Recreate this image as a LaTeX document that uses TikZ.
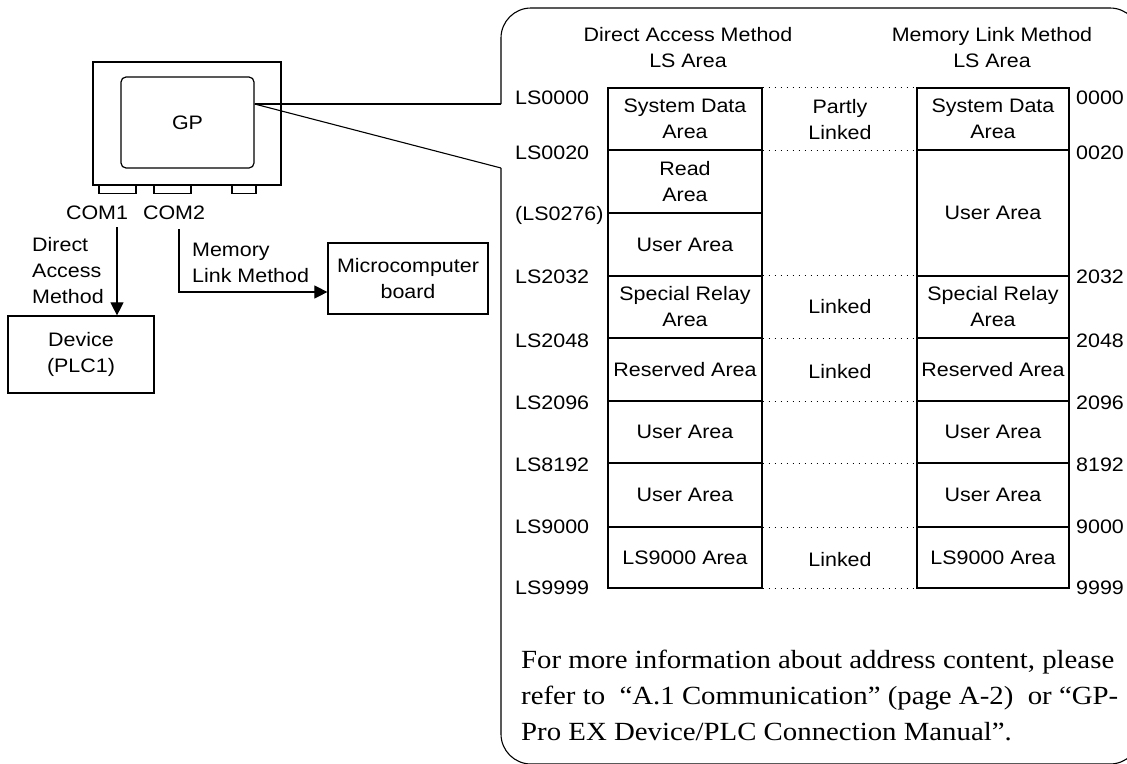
\documentclass[tikz,border=0pt]{standalone}
\usepackage{fontspec}
\setmainfont{Liberation Serif}[FakeStretch=1.1]
\setsansfont{Liberation Sans}[FakeStretch=1.1]
\usetikzlibrary{arrows.meta}
\begin{document}
\begin{tikzpicture}[x=1pt,y=-1pt,
  sans/.style={font=\sffamily\fontsize{19.5}{26}\selectfont, inner sep=0pt, align=center},
  box/.style={draw, line width=1.2pt, inner sep=0pt, align=center, font=\sffamily\fontsize{19.5}{26}\selectfont},
  cellL/.style={box, minimum width=154pt},
  cellR/.style={box, minimum width=152pt},
  dotline/.style={line width=1.4pt, dash pattern=on 1.4pt off 4.6pt},
  arr/.style={line width=1.1pt, -{Triangle[length=13pt,width=13pt]}},
  thin/.style={line width=1.1pt}
]
\useasboundingbox (0,0) rectangle (1127,763);

% ---------- left part ----------
\node[box, minimum width=188pt, minimum height=123pt] (gpout) at (187,123.5) {};
\node[box, rounded corners=5pt, minimum width=133pt, minimum height=91pt] (gp) at (187.5,122.5) {GP};
\node[box, minimum width=37pt, minimum height=8pt, anchor=north] (p1) at (117.5,185) {};
\node[box, minimum width=37pt, minimum height=8pt, anchor=north] (p2) at (172.5,185) {};
\node[box, minimum width=24pt, minimum height=8pt, anchor=north] (p3) at (244,185) {};
\node[sans] (com1) at (97,213) {COM1};
\node[sans] (com2) at (174,213) {COM2};

\node[box, minimum width=146pt, minimum height=77pt] (dev) at (81,354.5) {Device\\(PLC1)};
\node[box, minimum width=160pt, minimum height=71pt] (mc) at (408,278.5) {Microcomputer\\board};

\coordinate (a1) at (117,227);
\draw[arr] (a1) -- (a1 |- dev.north);
\node[sans, align=left, anchor=west] (dam) at (32,271) {Direct\\Access\\Method};

\coordinate (a2) at (179,229);
\coordinate (bend) at (179,292);
\draw[arr] (a2) -- (bend) -- (bend -| mc.west);
\node[sans, align=left, anchor=west] (mlm) at (192,263) {Memory\\Link Method};

% ---------- callout panel ----------
\coordinate (ct) at (501,104);
\coordinate (cb) at (501,168);
\draw[thin] (gp.east |- 0,104) -- (ct);
\draw[thin] (gp.east |- 0,104) -- (cb);
\draw[thin, rounded corners=30pt] (ct) -- (501,8) -- (1140,8) -- (1140,764) -- (501,764) -- (cb);

% headers
\node[sans] (h1) at (688,48) {Direct Access Method\\LS Area};
\node[sans] (h2) at (992,48) {Memory Link Method\\LS Area};

% left column
\node[cellL, minimum height=62pt]   (l1) at (685,119)   {System Data\\Area};
\node[cellL, minimum height=63pt]   (l2) at (685,181.5) {Read\\Area};
\node[cellL, minimum height=63pt]   (l3) at (685,244.5) {User Area};
\node[cellL, minimum height=62pt]   (l4) at (685,307)   {Special Relay\\Area};
\node[cellL, minimum height=63pt]   (l5) at (685,369.5) {Reserved Area};
\node[cellL, minimum height=62pt]   (l6) at (685,432)   {User Area};
\node[cellL, minimum height=64pt]   (l7) at (685,495)   {User Area};
\node[cellL, minimum height=61pt]   (l8) at (685,557.5) {LS9000 Area};

% right column
\node[cellR, minimum height=62pt]   (r1) at (993,119)   {System Data\\Area};
\node[cellR, minimum height=126pt]  (r2) at (993,213)   {User Area};
\node[cellR, minimum height=62pt]   (r4) at (993,307)   {Special Relay\\Area};
\node[cellR, minimum height=63pt]   (r5) at (993,369.5) {Reserved Area};
\node[cellR, minimum height=62pt]   (r6) at (993,432)   {User Area};
\node[cellR, minimum height=64pt]   (r7) at (993,495)   {User Area};
\node[cellR, minimum height=61pt]   (r8) at (993,557.5) {LS9000 Area};

% dotted links
\draw[dotline] (l1.north east) -- (r1.north west);
\draw[dotline] (l1.south east) -- (r1.south west);
\draw[dotline] (l4.north east) -- (r4.north west);
\draw[dotline] (l4.south east) -- (r4.south west);
\draw[dotline] (l5.south east) -- (r5.south west);
\draw[dotline] (l6.south east) -- (r6.south west);
\draw[dotline] (l7.south east) -- (r7.south west);
\draw[dotline] (l8.south east) -- (r8.south west);

% middle labels
\node[sans] (m1) at (840,120) {Partly\\Linked};
\node[sans] (m2) at (840,307) {Linked};
\node[sans] (m3) at (840,372) {Linked};
\node[sans] (m4) at (840,560) {Linked};

% address labels left
\node[sans, anchor=west] (a0000) at (515,98)  {LS0000};
\node[sans, anchor=west] (a0020) at (515,153) {LS0020};
\node[sans, anchor=west] (a0276) at (515,215) {(LS0276)};
\node[sans, anchor=west] (a2032) at (515,277) {LS2032};
\node[sans, anchor=west] (a2048) at (515,341) {LS2048};
\node[sans, anchor=west] (a2096) at (515,403) {LS2096};
\node[sans, anchor=west] (a8192) at (515,465) {LS8192};
\node[sans, anchor=west] (a9000) at (515,527) {LS9000};
\node[sans, anchor=west] (a9999) at (515,588) {LS9999};

% address labels right
\node[sans, anchor=west] (b0000) at (1076,98)  {0000};
\node[sans, anchor=west] (b0020) at (1076,153) {0020};
\node[sans, anchor=west] (b2032) at (1076,277) {2032};
\node[sans, anchor=west] (b2048) at (1076,341) {2048};
\node[sans, anchor=west] (b2096) at (1076,403) {2096};
\node[sans, anchor=west] (b8192) at (1076,465) {8192};
\node[sans, anchor=west] (b9000) at (1076,527) {9000};
\node[sans, anchor=west] (b9999) at (1076,588) {9999};

% note
\node[font=\rmfamily\fontsize{26.2}{36}\selectfont, align=left, inner sep=0pt, anchor=base west] (note) at (521,740)
  {For more information about address content, please\\refer to\ \ “A.1 Communication” (page A-2)\ \ or “GP-\\Pro EX Device/PLC Connection Manual”.};
\end{tikzpicture}
\end{document}
